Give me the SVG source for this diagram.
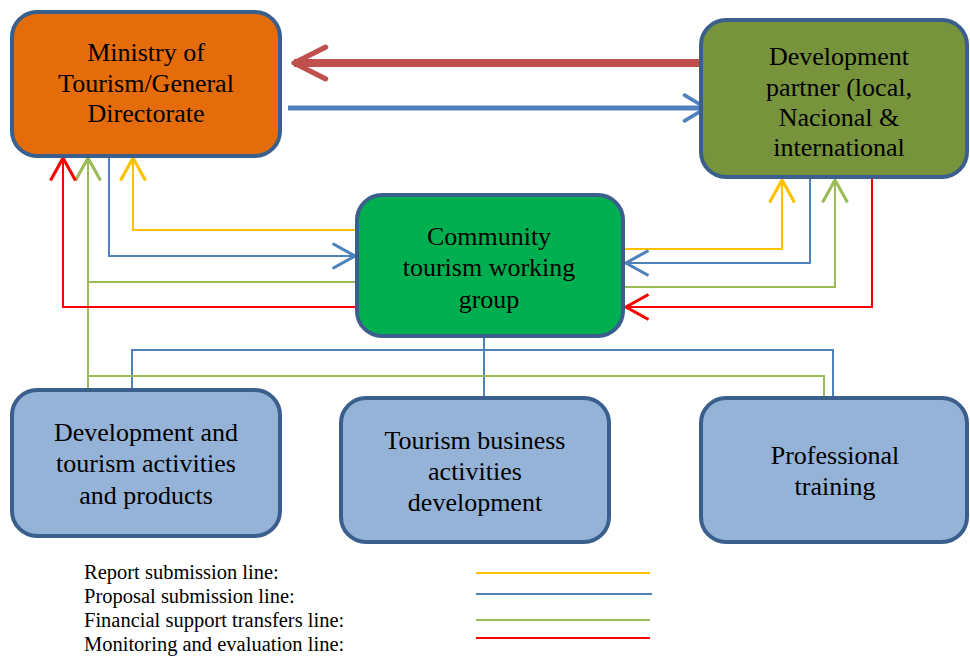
<svg xmlns="http://www.w3.org/2000/svg" width="970" height="657" viewBox="0 0 970 657">
<style>
.box{stroke:#3A5F8D;stroke-width:4}
.t{font-family:"Liberation Serif","Times New Roman",serif;font-size:26px;fill:#000;text-anchor:middle}
.lg{font-family:"Liberation Serif","Times New Roman",serif;font-size:20.5px;fill:#000}
.c{fill:none;stroke-width:2}
.y{stroke:#FFC000}.b{stroke:#4F81BD}.g{stroke:#9BBB59}.r{stroke:#FF0000}
</style>
<defs>
<marker id="ay" markerUnits="userSpaceOnUse" markerWidth="30" markerHeight="30" viewBox="-20 -12 22 24" refX="0" refY="0" orient="auto"><path d="M-18,-10 L0,0 L-18,10" fill="none" stroke="#FFC000" stroke-width="2.5"/></marker>
<marker id="ab" markerUnits="userSpaceOnUse" markerWidth="30" markerHeight="30" viewBox="-20 -12 22 24" refX="0" refY="0" orient="auto"><path d="M-18,-10 L0,0 L-18,10" fill="none" stroke="#4F81BD" stroke-width="2.5"/></marker>
<marker id="ag" markerUnits="userSpaceOnUse" markerWidth="30" markerHeight="30" viewBox="-20 -12 22 24" refX="0" refY="0" orient="auto"><path d="M-18,-10 L0,0 L-18,10" fill="none" stroke="#9BBB59" stroke-width="2.5"/></marker>
<marker id="ar" markerUnits="userSpaceOnUse" markerWidth="30" markerHeight="30" viewBox="-20 -12 22 24" refX="0" refY="0" orient="auto"><path d="M-18,-10 L0,0 L-18,10" fill="none" stroke="#FF0000" stroke-width="2.5"/></marker>
<marker id="aR" markerUnits="userSpaceOnUse" markerWidth="40" markerHeight="40" viewBox="-34 -18 38 36" refX="0" refY="0" orient="auto"><path d="M-30,-15 L0,0 L-30,15" fill="none" stroke="#C0504D" stroke-width="5" stroke-linecap="round" stroke-linejoin="round"/></marker>
<marker id="aB" markerUnits="userSpaceOnUse" markerWidth="30" markerHeight="30" viewBox="-24 -14 26 28" refX="0" refY="0" orient="auto"><path d="M-20,-12 L0,0 L-20,12" fill="none" stroke="#4F81BD" stroke-width="3.5" stroke-linecap="round" stroke-linejoin="round"/></marker>
</defs>

<g id="connectors">
<path class="c y" d="M357,230 H133 V158" marker-end="url(#ay)"/>
<path class="c b" d="M109,156 V256 H355" marker-end="url(#ab)"/>
<path class="c g" d="M88,390 V158" marker-end="url(#ag)"/>
<path class="c g" d="M357,282 H88"/>
<path class="c r" d="M357,307 H63 V158" marker-end="url(#ar)"/>
<path class="c y" d="M623,249 H782 V180" marker-end="url(#ay)"/>
<path class="c b" d="M810,178 V263 H626" marker-end="url(#ab)"/>
<path class="c g" d="M623,287 H835 V180" marker-end="url(#ag)"/>
<path class="c r" d="M872,177 V307 H626" marker-end="url(#ar)"/>
<path class="c b" d="M484,336 V398"/>
<path class="c b" d="M132,389 V350 H833 V398"/>
<path class="c g" d="M88,376 H824 V398"/>
<path fill="none" stroke="#C0504D" stroke-width="8" d="M701,63 H294" marker-end="url(#aR)"/>
<path fill="none" stroke="#4F81BD" stroke-width="5" d="M288,108 H706" marker-end="url(#aB)"/>
</g>

<g id="ministry">
<rect class="box" x="12" y="12" width="268" height="144" rx="25" fill="#E46C0A"/>
<text class="t" x="146" y="61">Ministry of</text>
<text class="t" x="146" y="92">Tourism/General</text>
<text class="t" x="146" y="122">Directorate</text>
</g>
<g id="partner">
<rect class="box" x="701" y="20" width="266" height="157" rx="25" fill="#77933C"/>
<text class="t" x="839" y="65">Development</text>
<text class="t" x="839" y="96">partner (local,</text>
<text class="t" x="839" y="126">Nacional &amp;</text>
<text class="t" x="839" y="156">international</text>
</g>
<g id="community">
<rect class="box" x="357" y="195" width="266" height="141" rx="25" fill="#00B050"/>
<text class="t" x="489" y="245">Community</text>
<text class="t" x="489" y="276">tourism working</text>
<text class="t" x="489" y="308">group</text>
</g>
<g id="devtourism">
<rect class="box" x="12" y="390" width="268" height="146" rx="25" fill="#95B3D7"/>
<text class="t" x="146" y="441">Development and</text>
<text class="t" x="146" y="472">tourism activities</text>
<text class="t" x="146" y="504">and products</text>
</g>
<g id="business">
<rect class="box" x="341" y="398" width="268" height="144" rx="25" fill="#95B3D7"/>
<text class="t" x="475" y="449">Tourism business</text>
<text class="t" x="475" y="480">activities</text>
<text class="t" x="475" y="511">development</text>
</g>
<g id="training">
<rect class="box" x="701" y="398" width="266" height="144" rx="25" fill="#95B3D7"/>
<text class="t" x="835" y="464">Professional</text>
<text class="t" x="835" y="495">training</text>
</g>

<g id="legend">
<text class="lg" x="84" y="579">Report submission line:</text>
<text class="lg" x="84" y="603">Proposal submission line:</text>
<text class="lg" x="84" y="627">Financial support transfers line:</text>
<text class="lg" x="84" y="651">Monitoring and evaluation line:</text>
<line x1="476" y1="573" x2="650" y2="573" stroke="#FFC000" stroke-width="2"/>
<line x1="476" y1="594" x2="652" y2="594" stroke="#4F81BD" stroke-width="2"/>
<line x1="476" y1="620" x2="650" y2="620" stroke="#9BBB59" stroke-width="2"/>
<line x1="476" y1="638" x2="650" y2="638" stroke="#FF0000" stroke-width="2"/>
</g>
</svg>
